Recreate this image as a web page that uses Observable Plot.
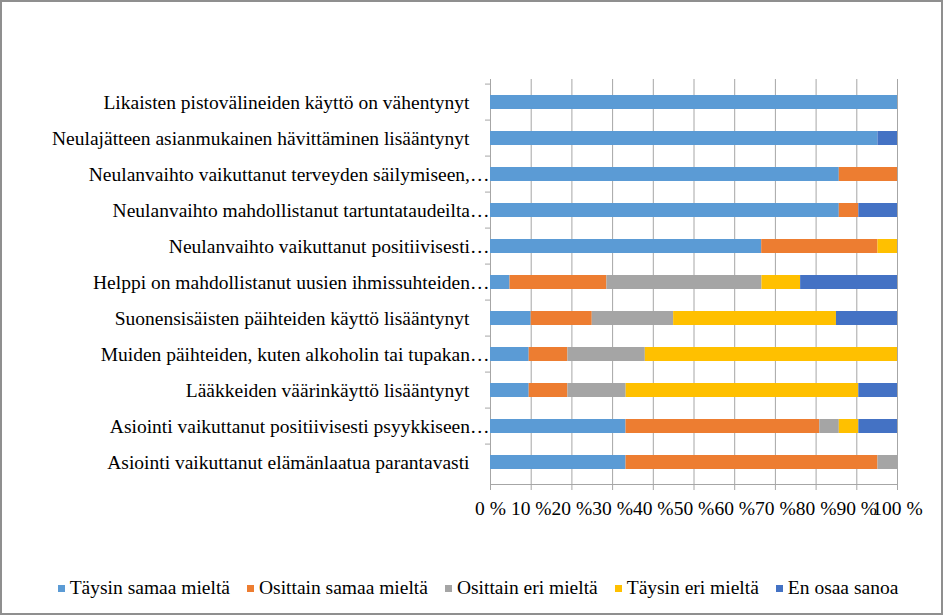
<!DOCTYPE html>
<html>
<head>
<meta charset="utf-8">
<script src="https://cdn.jsdelivr.net/npm/d3@7"></script>
<script src="https://cdn.jsdelivr.net/npm/@observablehq/plot@0.6"></script>
<style>
  html, body { margin: 0; padding: 0; background: #fff; }
  #wrap { position: relative; width: 944px; height: 616px; overflow: hidden; font-family: "Liberation Serif", "Times New Roman", serif; }
  #border { position: absolute; left: 0; top: 0; width: 943px; height: 615px; box-sizing: border-box; border: 2px solid #8f8f8f; pointer-events: none; }
  #chart { position: absolute; left: 0; top: 0; }
  #legend { position: absolute; left: 6px; width: 944px; top: 577px; display: flex; justify-content: center; gap: 17px; font-family: "Liberation Serif", serif; font-size: 19.5px; color: #000; white-space: nowrap; }
  #legend .item { display: flex; align-items: center; gap: 5px; }
  #legend .sw { width: 7px; height: 7px; display: inline-block; }
</style>
</head>
<body>
<div id="wrap">
  <div id="chart"></div>
  <div id="legend"></div>
  <div id="border"></div>
</div>
<script>
const categories = [
  "Likaisten pistovälineiden käyttö on vähentynyt",
  "Neulajätteen asianmukainen hävittäminen lisääntynyt",
  "Neulanvaihto vaikuttanut terveyden säilymiseen,…",
  "Neulanvaihto mahdollistanut tartuntataudeilta…",
  "Neulanvaihto vaikuttanut positiivisesti…",
  "Helppi on mahdollistanut uusien ihmissuhteiden…",
  "Suonensisäisten päihteiden käyttö lisääntynyt",
  "Muiden päihteiden, kuten alkoholin tai tupakan…",
  "Lääkkeiden väärinkäyttö lisääntynyt",
  "Asiointi vaikuttanut positiivisesti psyykkiseen…",
  "Asiointi vaikuttanut elämänlaatua parantavasti"
];
const seriesNames = ["Täysin samaa mieltä", "Osittain samaa mieltä", "Osittain eri mieltä", "Täysin eri mieltä", "En osaa sanoa"];
const seriesColors = ["#5B9BD5", "#ED7D31", "#A5A5A5", "#FFC000", "#4472C4"];

const taysinSamaa   = [100, 95.2, 85.7, 85.7, 66.7,  4.8, 10,  9.5,  9.5, 33.3, 33.3];
const osittainSamaa = [  0,  0,   14.3,  4.8, 28.6, 23.8, 15,  9.5,  9.5, 47.6, 61.9];
const osittainEri   = [  0,  0,    0,    0,    0,   38.1, 20, 19.0, 14.3,  4.8,  4.8];
const taysinEri     = [  0,  0,    0,    0,    4.8,  9.5, 40, 61.9, 57.1,  4.8,  0];
const enOsaa        = [  0,  4.8,  0,    9.5,  0,   23.8, 15,  0,    9.5,  9.5,  0];

const xTicks = [0, 10, 20, 30, 40, 50, 60, 70, 80, 90, 100];

const seriesValues = [taysinSamaa, osittainSamaa, osittainEri, taysinEri, enOsaa];
const rows = [];
seriesNames.forEach((s, si) => {
  categories.forEach((c, ci) => {
    rows.push({category: c, series: s, value: seriesValues[si][ci]});
  });
});

const W = 944, H = 560;
const mTop = 79, mBottom = 76, mLeft = 490, mRight = 47;
const step = (H - mTop - mBottom) / categories.length;
const gridColor = "#a6a6a6";

const chart = Plot.plot({
  width: W,
  height: H,
  marginTop: mTop,
  marginBottom: mBottom,
  marginLeft: mLeft,
  marginRight: mRight,
  style: {fontFamily: "Liberation Serif, Times New Roman, serif", fontSize: "19.5px", color: "#000", background: "transparent"},
  x: {domain: [0, 1]},
  y: {domain: categories, paddingInner: 0.62, paddingOuter: 0.31},
  color: {domain: seriesNames, range: seriesColors},
  marks: [
    Plot.ruleX(xTicks.map(d => d / 100), {stroke: gridColor, strokeWidth: 1}),
    Plot.axisX({
      ticks: xTicks.map(d => d / 100),
      tickFormat: d => `${Math.round(d * 100)} %`,
      tickSize: 6,
      tickPadding: 11,
      stroke: gridColor,
      fill: "#000",
      label: null,
      fontSize: 19.5
    }),
    Plot.frame({anchor: "bottom", stroke: gridColor}),
    Plot.axisY({
      tickSize: 5,
      tickFormat: () => "",
      dy: -step / 2,
      stroke: gridColor,
      label: null
    }),
    Plot.barX(rows, Plot.stackX({
      x: "value",
      y: "category",
      fill: "series",
      offset: "normalize",
      order: seriesNames
    })),
    Plot.text(categories.filter(d => !d.endsWith("…")), {
      y: d => d, text: d => d, frameAnchor: "left", textAnchor: "end", dx: -21, fill: "#000", fontSize: 19.5
    }),
    Plot.text(categories.filter(d => d.endsWith("…")), {
      y: d => d, text: d => d, frameAnchor: "left", textAnchor: "end", dx: -1, fill: "#000", fontSize: 19.5
    })
  ]
});
document.getElementById("chart").appendChild(chart);

const legend = document.getElementById("legend");
seriesNames.forEach((s, i) => {
  const item = document.createElement("div");
  item.className = "item";
  const sw = document.createElement("span");
  sw.className = "sw";
  sw.style.background = seriesColors[i];
  const tx = document.createElement("span");
  tx.textContent = s;
  item.appendChild(sw);
  item.appendChild(tx);
  legend.appendChild(item);
});
</script>
</body>
</html>
